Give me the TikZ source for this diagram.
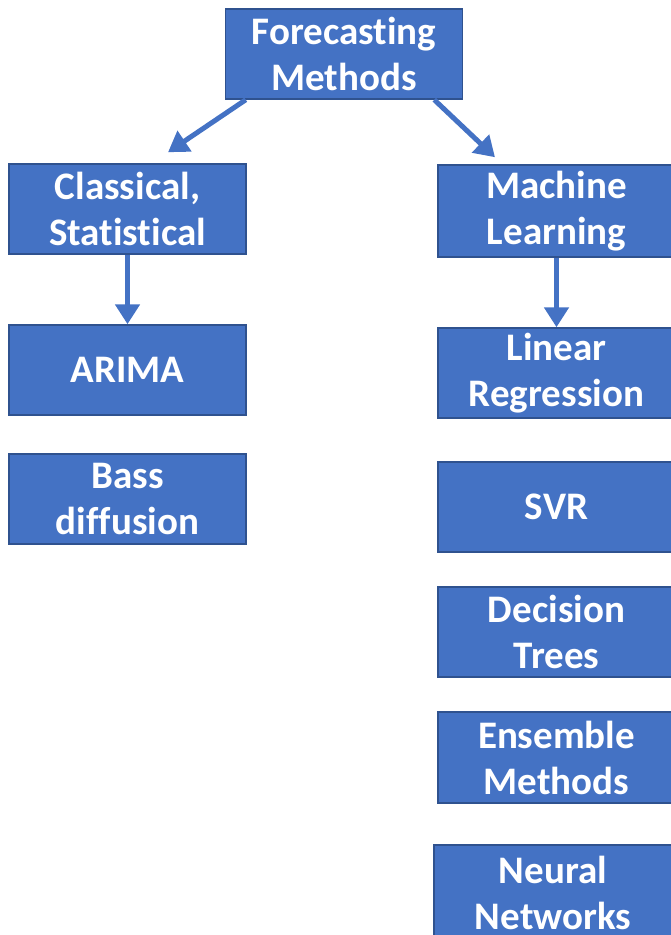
\documentclass[tikz,border=0pt]{standalone}
\usepackage{fontspec}
\setmainfont{Carlito}[Ligatures=NoCommon]
\usetikzlibrary{arrows.meta,calc}
\definecolor{boxfill}{HTML}{4472C4}
\definecolor{boxline}{HTML}{2F528F}
\begin{document}
\begin{tikzpicture}[x=1pt,y=-1pt,
  box/.style={rectangle,fill=boxfill,draw=boxline,line width=1.5pt,
    minimum width=237pt,minimum height=90pt,inner sep=0pt,align=center,
    text=white,font=\fontsize{39}{46}\selectfont\bfseries},
  arr/.style={draw=boxfill,line width=5pt,
    -{Triangle[length=20pt,width=24pt]}}]
\useasboundingbox (0,0) rectangle (670,935);
\node[box] (top) at (344,54) {Forecasting\\Methods};
\node[box] (cls) at (127.5,209) {Classical,\\Statistical};
\node[box] (arima) at (127.5,370) {ARIMA};
\node[box] (bass) at (127.5,499) {Bass\\diffusion};
\node[box,minimum height=92pt] (ml) at (556.5,211) {Machine\\Learning};
\node[box] (lr) at (556.5,373) {Linear\\Regression};
\node[box] (svr) at (556.5,507) {SVR};
\node[box] (dt) at (556.5,632) {Decision\\Trees};
\node[box,minimum height=91pt] (ens) at (556.5,757.5) {Ensemble\\Methods};
\node[box,minimum width=238pt,minimum height=95pt] (nn) at (553,892.5) {Neural\\Networks};
\draw[arr] ([xshift=21pt]top.south west) -- ([xshift=40.5pt,yshift=11pt]cls.north);
\draw[arr] ([xshift=-29pt]top.south east) -- ([xshift=-61.5pt,yshift=7pt]ml.north);
\draw[arr] (cls.south) -- (arima.north);
\draw[arr] (ml.south) -- (lr.north);
\end{tikzpicture}
\end{document}
